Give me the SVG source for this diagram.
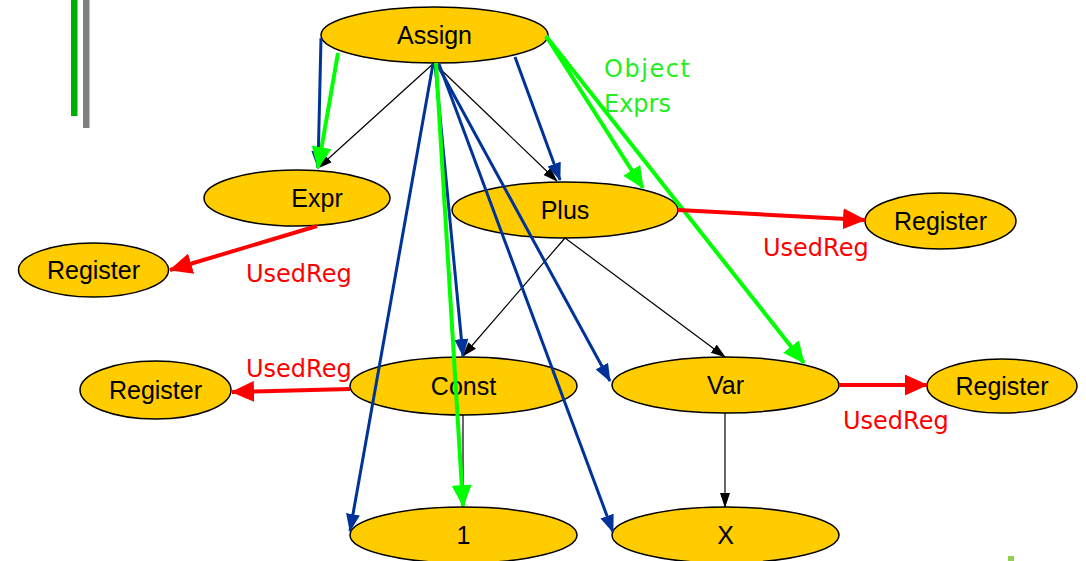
<svg xmlns="http://www.w3.org/2000/svg" width="1086" height="561" viewBox="0 0 1086 561">
<style>
.node ellipse{fill:#FFCC00;stroke:#000;stroke-width:1.5}
.node text{font-family:"Liberation Sans",Arial,sans-serif;font-size:25px;fill:#000;text-anchor:middle}
.lbl{font-family:"DejaVu Sans","Comic Sans MS",sans-serif;font-size:24px}
.red{fill:#FF0000}
.grn{fill:#22EE22}
.eb{stroke:#000;stroke-width:1.2;fill:none;marker-end:url(#ab)}
.eu{stroke:#003399;stroke-width:3;fill:none;marker-end:url(#au)}
.eg{stroke:#00FF00;stroke-width:4;fill:none;marker-end:url(#ag)}
.er{stroke:#FF0000;stroke-width:4;fill:none;marker-end:url(#ar)}
</style>
<defs>
<marker id="ab" markerUnits="userSpaceOnUse" markerWidth="15" markerHeight="10" refX="14" refY="5" orient="auto"><path d="M0,0 L15,5 L0,10 z" fill="#000"/></marker>
<marker id="au" markerUnits="userSpaceOnUse" markerWidth="18" markerHeight="14" refX="17" refY="7" orient="auto"><path d="M0,0 L18,7 L0,14 z" fill="#003399"/></marker>
<marker id="ag" markerUnits="userSpaceOnUse" markerWidth="22" markerHeight="20" refX="21" refY="10" orient="auto"><path d="M0,0 L22,10 L0,20 z" fill="#00FF00"/></marker>
<marker id="ar" markerUnits="userSpaceOnUse" markerWidth="23" markerHeight="21" refX="22" refY="10.5" orient="auto"><path d="M0,0 L23,10.5 L0,21 z" fill="#FF0000"/></marker>
</defs>
<rect width="1086" height="561" fill="#fff"/>
<rect x="71" y="0" width="6.5" height="116" fill="#00B000"/>
<rect x="83" y="0" width="6.5" height="128" fill="#808080"/>
<rect x="1008" y="556" width="6" height="5" fill="#92D050"/>

<g id="n-assign" class="node"><ellipse cx="434.5" cy="35" rx="113.5" ry="28"/><text x="434.5" y="44">Assign</text></g>
<g id="n-expr" class="node"><ellipse cx="297" cy="198" rx="93" ry="28"/><text x="317" y="207">Expr</text></g>
<g id="n-plus" class="node"><ellipse cx="565" cy="210" rx="113" ry="28"/><text x="565" y="219">Plus</text></g>
<g id="n-reg1" class="node"><ellipse cx="93.5" cy="270" rx="75" ry="27"/><text x="93.5" y="279">Register</text></g>
<g id="n-reg2" class="node"><ellipse cx="940.5" cy="221" rx="75.5" ry="28"/><text x="940.5" y="230">Register</text></g>
<g id="n-reg3" class="node"><ellipse cx="155.5" cy="390" rx="75.5" ry="29"/><text x="155.5" y="399">Register</text></g>
<g id="n-const" class="node"><ellipse cx="463.5" cy="386" rx="113.5" ry="29"/><text x="463.5" y="395">Const</text></g>
<g id="n-var" class="node"><ellipse cx="725.5" cy="385" rx="113.5" ry="28"/><text x="725.5" y="394">Var</text></g>
<g id="n-reg4" class="node"><ellipse cx="1002" cy="386" rx="75" ry="27"/><text x="1002" y="395">Register</text></g>
<g id="n-one" class="node"><ellipse cx="463.5" cy="535" rx="113.5" ry="28"/><text x="463.5" y="544">1</text></g>
<g id="n-x" class="node"><ellipse cx="725.5" cy="535" rx="113.5" ry="28"/><text x="725.5" y="544">X</text></g>

<g id="connectors">
<path class="eb" d="M434,63 L318,168"/>
<path class="eb" d="M434,63 L557,181"/>
<path class="eb" d="M565,238 L463,356"/>
<path class="eb" d="M565,238 L725,357"/>
<path class="eb" d="M463,415 L463,507"/>
<path class="eb" d="M725,413 L725,507"/>
<path class="eu" d="M321,38 L318,168"/>
<path class="eu" d="M515,57 L560,180"/>
<path class="eu" d="M433,64 L350,531"/>
<path class="eu" d="M435,64 L463,356"/>
<path class="eu" d="M437,64 L610,381"/>
<path class="eu" d="M439,64 L613,532"/>
<path class="eg" d="M338,53 L318,168"/>
<path class="eg" d="M546,36 L643,188"/>
<path class="eg" d="M546,36 L804,363"/>
<path class="eg" d="M436,63 L463,506"/>
<path class="er" d="M317,226 L170,270"/>
<path class="er" d="M678,210 L865,220"/>
<path class="er" d="M350,389 L232,392"/>
<path class="er" d="M839,385 L927,385"/>
</g>

<g id="labels">
<text class="lbl grn" x="604" y="77" textLength="86">Object</text>
<text class="lbl grn" x="604" y="112">Exprs</text>
<text class="lbl red" x="246" y="282">UsedReg</text>
<text class="lbl red" x="763" y="256">UsedReg</text>
<text class="lbl red" x="246" y="377">UsedReg</text>
<text class="lbl red" x="843" y="429">UsedReg</text>
</g>
</svg>
